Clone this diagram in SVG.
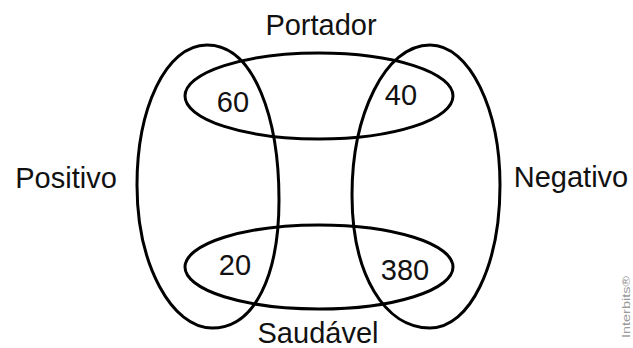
<svg xmlns="http://www.w3.org/2000/svg" width="633" height="348" viewBox="0 0 633 348">
<style>
.s{fill:none;stroke:#000;stroke-width:3}
.t{font-family:"Liberation Sans",Arial,sans-serif;font-size:29px;fill:#111;text-anchor:middle}
</style>
<rect width="633" height="348" fill="#fff"/>
<g id="positivo">
<path class="s" d="M207,45 C165,45 137,110 137,185 C137,265 172,328 212,328 C255,328 279,275 279,200 C279,120 255,45 207,45 Z"/>
<text class="t" x="66" y="188">Positivo</text>
</g>
<g id="negativo">
<path class="s" d="M430,45 C385,45 352,115 352,195 C352,275 385,328 430,328 C470,328 500,265 500,185 C500,110 470,45 430,45 Z"/>
<text class="t" x="571" y="187">Negativo</text>
</g>
<g id="portador">
<ellipse class="s" cx="319" cy="96" rx="134" ry="43"/>
<text class="t" x="321" y="35">Portador</text>
</g>
<g id="saudavel">
<ellipse class="s" cx="319" cy="267" rx="134" ry="42"/>
<text class="t" x="318" y="343">Saudável</text>
</g>
<g id="values">
<text class="t" x="233" y="112">60</text>
<text class="t" x="401" y="105">40</text>
<text class="t" x="235" y="275">20</text>
<text class="t" x="405" y="280">380</text>
</g>
<text x="630" y="338" transform="rotate(-90 630 338)" textLength="62" lengthAdjust="spacingAndGlyphs" style="font-family:'Liberation Sans',Arial,sans-serif;font-size:11px;fill:#999">Interbits®</text>
</svg>
